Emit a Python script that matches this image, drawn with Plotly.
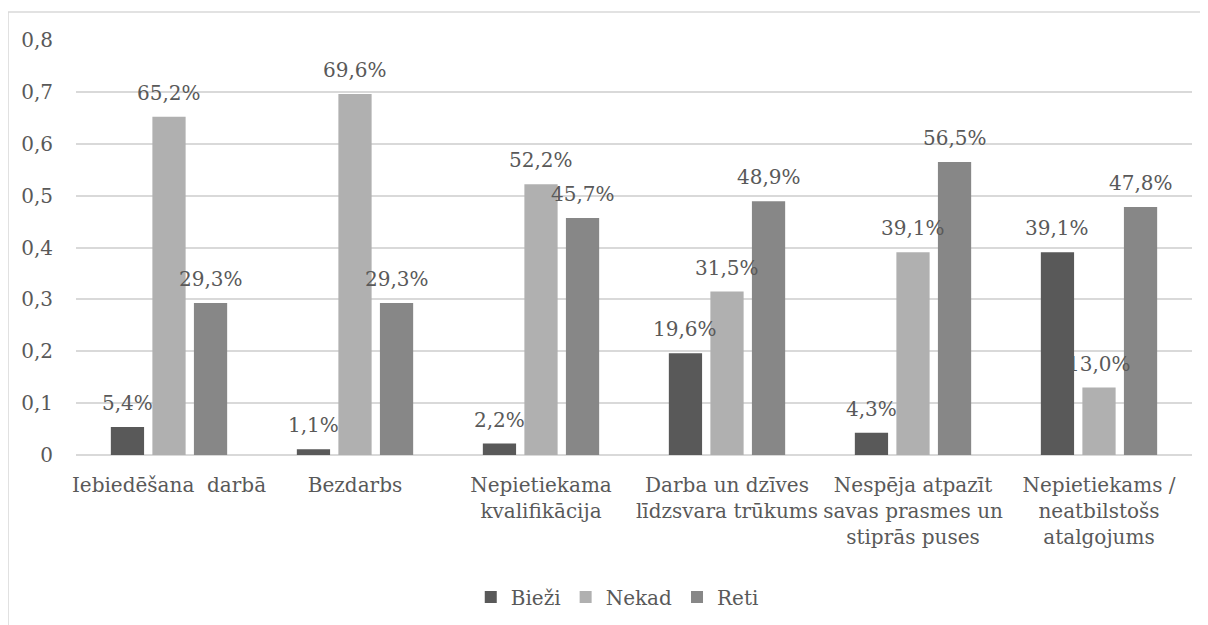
import plotly.graph_objects as go

categories = [
    "Iebiedēšana  darbā",
    "Bezdarbs",
    "Nepietiekama<br>kvalifikācija",
    "Darba un dzīves<br>līdzsvara trūkums",
    "Nespēja atpazīt<br>savas prasmes un<br>stiprās puses",
    "Nepietiekams /<br>neatbilstošs<br>atalgojums",
]
biezi = [5.4, 1.1, 2.2, 19.6, 4.3, 39.1]
nekad = [65.2, 69.6, 52.2, 31.5, 39.1, 13.0]
reti = [29.3, 29.3, 45.7, 48.9, 56.5, 47.8]
series_names = ["Bieži", "Nekad", "Reti"]
y_ticks = [0, 0.1, 0.2, 0.3, 0.4, 0.5, 0.6, 0.7, 0.8]
y_ticktext = ["0", "0,1", "0,2", "0,3", "0,4", "0,5", "0,6", "0,7", "0,8"]

colors = ["#595959", "#b0b0b0", "#878787"]
FONT = "DejaVu Serif"
FS = 20
TXT = "#595959"
BARGAP = 0.33
GROUPGAP = 0.2

fig = go.Figure()
all_series = [biezi, nekad, reti]
for name, vals, col in zip(series_names, all_series, colors):
    fig.add_trace(go.Bar(
        name=name,
        x=categories,
        y=[v / 100 for v in vals],
        marker=dict(color=col, line=dict(width=0)),
    ))

slot = (1 - BARGAP) / len(all_series)
annotations = []
for k, vals in enumerate(all_series):
    off = (k - (len(all_series) - 1) / 2) * slot
    for i, v in enumerate(vals):
        annotations.append(dict(
            x=i + off, y=v / 100, xref="x", yref="y",
            text=f"{v:.1f}".replace(".", ",") + "%",
            showarrow=False, yanchor="bottom", xanchor="center",
            yshift=10,
            font=dict(family=FONT, size=FS, color=TXT),
        ))

fig.update_layout(
    width=1200, height=617,
    margin=dict(l=68, r=16, t=32, b=170, autoexpand=False),
    paper_bgcolor="white", plot_bgcolor="white",
    barmode="group", bargap=BARGAP, bargroupgap=GROUPGAP,
    font=dict(family=FONT, size=FS, color=TXT),
    annotations=annotations,
    showlegend=True,
    legend=dict(
        orientation="h", x=0.485, xanchor="center", y=-0.342, yanchor="middle",
        font=dict(family=FONT, size=FS, color=TXT),
        tracegroupgap=0,
    ),
    shapes=[dict(
        type="rect", xref="paper", yref="paper",
        x0=-0.0609, x1=1.2, y0=-0.6, y1=1.0675,
        line=dict(color="#d9d9d9", width=1.5), fillcolor="rgba(0,0,0,0)",
        layer="below",
    )],
)
fig.update_xaxes(
    type="category", showgrid=False, showline=False, ticks="",
    ticklabelstandoff=16, tickangle=0, automargin=False,
    tickfont=dict(family=FONT, size=FS, color=TXT),
)
fig.update_yaxes(
    range=[0, 0.8], tickvals=y_ticks, ticktext=y_ticktext,
    showgrid=True, gridcolor="#d9d9d9", gridwidth=1.5,
    zeroline=True, zerolinecolor="#d9d9d9", zerolinewidth=1.5,
    showline=False, ticks="", ticklabelstandoff=22, automargin=False,
    tickfont=dict(family=FONT, size=FS, color=TXT),
)

fig.write_html("out.html")
